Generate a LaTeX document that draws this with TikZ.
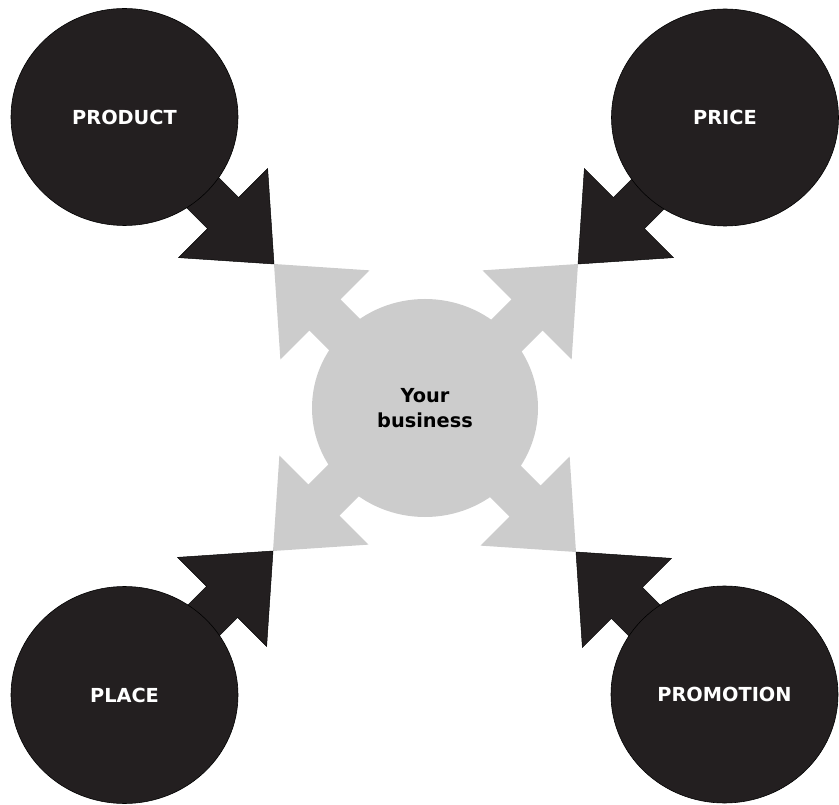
\documentclass[tikz,border=0pt]{standalone}
\usepackage{fontspec}
\setmainfont{DejaVu Sans}
\usetikzlibrary{shapes.geometric}

\definecolor{Sombre}{HTML}{231F20}
\definecolor{Gris}{HTML}{CCCCCC}

\tikzset{
  pole/.style={ellipse, fill=Sombre, draw=black, line width=0.5pt,
    minimum width=6.81cm, minimum height=6.51cm, inner sep=0pt,
    text=white, font=\fontsize{16.5}{20}\selectfont\bfseries},
  coeur/.style={ellipse, fill=Gris, minimum width=6.78cm, minimum height=6.54cm,
    inner sep=0pt, align=center, text=black,
    font=\fontsize{16.5}{21}\selectfont\bfseries},
  flechesombre/.style={fill=Sombre, draw=black, line width=0.4pt},
  flechegrise/.style={fill=Gris},
}

% fleche bloc : style, pointe, angle
\newcommand{\fleche}[3]{%
  \path[#1, shift={(#2)}, rotate=#3] (0,0) -- (-72,63) -- (-72,22) -- (-200,22)
    -- (-200,-22) -- (-72,-22) -- (-72,-63) -- cycle;}

\begin{document}
\begin{tikzpicture}[x=0.03cm, y=0.03cm]

 \useasboundingbox (0,0) rectangle (839,804);

 %%%%%%%%%% Points pour travailler %%%%%%%%%%
 \coordinate (hg) at (274,540);
 \coordinate (hd) at (578,540);
 \coordinate (bg) at (273,253);
 \coordinate (bd) at (576,252);

 %%%%%%%%%% Fleches grises %%%%%%%%%%
 \fleche{flechegrise}{hg}{135}
 \fleche{flechegrise}{hd}{45}
 \fleche{flechegrise}{bg}{225}
 \fleche{flechegrise}{bd}{-45}

 %%%%%%%%%% Fleches sombres %%%%%%%%%%
 \fleche{flechesombre}{hg}{-45}
 \fleche{flechesombre}{hd}{-135}
 \fleche{flechesombre}{bg}{45}
 \fleche{flechesombre}{bd}{135}

 %%%%%%%%%% Cercles %%%%%%%%%%
 \node[coeur] (business) at (425,396) {Your\\business};
 \node[pole] (product) at (124.5,687) {PRODUCT};
 \node[pole] (price) at (725,686.5) {PRICE};
 \node[pole] (place) at (124.5,109) {PLACE};
 \node[pole] (promotion) at (724.5,109.5) {PROMOTION};

\end{tikzpicture}
\end{document}
